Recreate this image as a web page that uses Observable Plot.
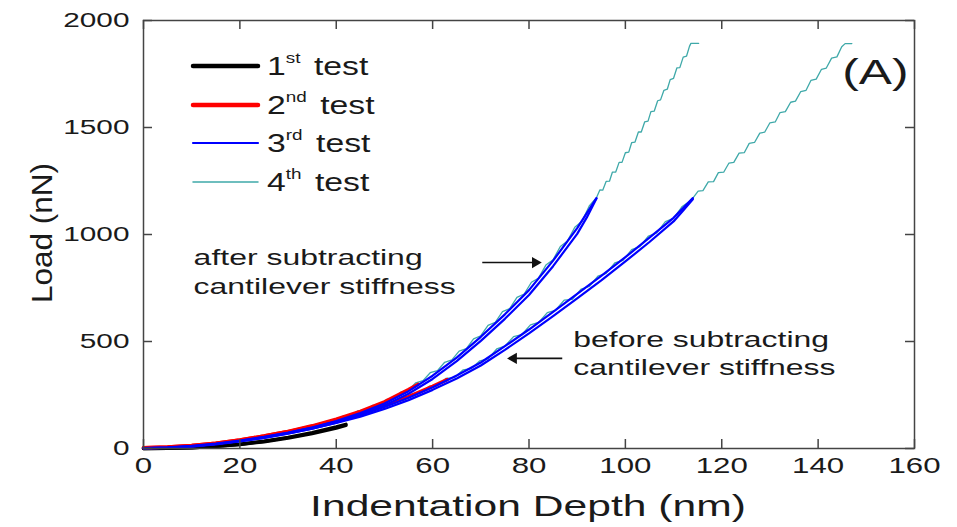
<!DOCTYPE html>
<html><head><meta charset="utf-8">
<script src="https://cdn.jsdelivr.net/npm/d3@7"></script>
<script src="https://cdn.jsdelivr.net/npm/@observablehq/plot@0.6"></script>
<style>
body{margin:0;background:#fff;}
#chart{position:relative;width:957px;height:527px;}
</style></head><body><div id="chart"></div>
<script>
// ---- tick labels ----
const xTicks = [0, 20, 40, 60, 80, 100, 120, 140, 160];
const yTicks = [0, 500, 1000, 1500, 2000];
const xTitle = "Indentation Depth (nm)";
const yTitle = "Load (nN)";
const panelLabel = "(A)";

// ---- series: [indentation depth (nm), load (nN)] ----
const test1After = [[0,0],[5,1],[10,4],[15,10],[20,20],[25,34],[30,52],[35,74],[40,101],[42,113]];
const test1Before = [[0,0],[5,1],[10,4],[15,10],[20,19],[25,32],[30,49],[35,70],[40,96],[42,108]];

const test2After = [[0,4],[5,7],[10,14],[15,25],[20,40],[25,58],[30,80],[35,106],[40,137],[45,173],[50,218],[55,275],[57,300]];
const test2Before = [[0,4],[5,7],[10,14],[15,25],[20,40],[25,58],[30,79],[35,103],[40,131],[45,162],[50,199],[55,242],[60,290],[63,322]];

const test3AfterA = [[0,2],[5,4],[10,10],[15,21],[20,36],[25,53],[30,73],[35,98],[40,128],[45,166],[50,210],[55,268],[60,340],[65,425],[70,522],[75,627],[80,740],[85,878],[90,1030],[94,1170]];
const test3AfterB = [[0,1],[5,3],[10,9],[15,19],[20,33],[25,49],[30,69],[35,93],[40,121],[45,158],[50,201],[55,256],[60,325],[65,408],[70,503],[75,606],[80,717],[85,852],[90,1003],[92,1080],[94,1168]];
const test3BeforeA = [[0,2],[5,5],[10,12],[15,23],[20,37],[25,54],[30,74],[35,98],[40,126],[45,157],[50,194],[55,237],[60,286],[65,341],[70,402],[75,478],[80,556],[85,638],[90,722],[95,807],[100,894],[105,985],[110,1078],[114,1170]];
const test3BeforeB = [[0,1],[5,4],[10,10],[15,21],[20,34],[25,50],[30,70],[35,93],[40,119],[45,149],[50,185],[55,226],[60,274],[65,327],[70,388],[75,461],[80,538],[85,619],[90,702],[95,786],[100,874],[105,965],[110,1061],[112,1112],[114,1165]];

const test4After = [[0,0],[10,10],[20,36],[30,74],[36,102],[40,128],
 [41.5,153],[43,152],[44.5,176],[46,176],[47.5,201],[49,202],[50.5,230],[52,234],[53.5,265],[55,272],
 [56.5,307],[58,317],[59.5,354],[61,364],[62.5,403],[64,414],[65.5,455],[67,467],[68.5,512],[70,527],
 [71.5,575],[73,590],[74.5,640],[76,654],[77.5,706],[79,722],[80.5,777],[82,797],[83.5,857],[85,882],
 [86.5,944],[88,970],[89.5,1034],[91,1062],[92.5,1133],[94,1172],
 [94.7,1208],[95.3,1207],[96,1248],[96.7,1249],[97.3,1291],[98,1292],[98.7,1337],[99.3,1337],[100,1382],
 [100.7,1385],[101.3,1429],[102,1432],[102.7,1479],[103.3,1479],[104,1526],[104.7,1530],[105.3,1574],
 [106,1577],[106.7,1625],[107.3,1629],[108,1674],[108.7,1679],[109.3,1724],[110,1730],[110.7,1779],
 [111.3,1780],[112,1829],[112.7,1834],[113.3,1879],[113.6,1893],[115.2,1893]];

const test4Before = [[0,0],[10,11],[20,36],[30,73],[40,125],
 [41.8,151],[43.5,146],[45.3,171],[47,169],[48.8,197],[50.5,196],[52.3,225],[54,226],[55.8,256],[57.5,259],
 [59.3,291],[61,294],[62.8,328],[64.5,331],[66.3,367],[68,373],[69.8,410],[71.5,419],[73.3,465],[75,478],
 [76.8,523],[78.5,532],[80.3,578],[82,589],[83.8,635],[85.5,646],[87.3,693],[89,697],[90.8,745],[92.5,757],
 [94.3,805],[96,818],[97.8,867],[99.5,879],[101.3,929],[103,943],[104.8,993],[106.5,1008],[108.3,1060],
 [110,1075],[111.8,1131],[113.5,1158],[114,1170],
 [115.1,1203],[116.1,1205],[117.2,1246],[118.3,1247],[119.3,1289],[120.4,1291],[121.5,1334],[122.5,1337],
 [123.6,1380],[124.7,1383],[125.7,1426],[126.8,1430],[127.9,1474],[128.9,1478],[130,1522],[131.1,1526],
 [132.1,1570],[133.2,1574],[134.3,1618],[135.3,1623],[136.4,1668],[137.5,1674],[138.5,1720],[139.6,1726],
 [140.7,1772],[141.7,1778],[142.8,1824],[143.9,1830],[144.9,1877],[145.6,1892],[147,1892]];

// ---- legend & annotations ----
const legendNums = ["1", "2", "3", "4"];
const legendSups = ["st", "nd", "rd", "th"];
const legendWord = "test";
const notes = [
  {text: "after subtracting", x: 10.4, y: 893},
  {text: "cantilever stiffness", x: 10.4, y: 757},
  {text: "before subtracting", x: 89.2, y: 509},
  {text: "cantilever stiffness", x: 89.2, y: 378}
];
const arrows = [
  {x1: 70.3, x2: 81.3, y: 869},
  {x1: 86.9, x2: 76.8, y: 421}
];
const panelPos = [{text: panelLabel, x: 145, y: 1757}];

const FONT = "'Liberation Sans', Arial, Helvetica, sans-serif";
const C = {t1: "#000000", t2: "#ff0000", t3: "#0000ff", t4: "#3fa9a9", axis: "#444444", txt: "#1a1a1a"};
const px = d => d[0], py = d => d[1];

const plot = Plot.plot({
  width: 957, height: 527,
  marginLeft: 143, marginRight: 43, marginTop: 20, marginBottom: 79,
  style: {fontFamily: FONT, color: C.txt, background: "#fff", overflow: "visible"},
  x: {domain: [0, 160]},
  y: {domain: [0, 2000]},
  marks: [
    Plot.line(test4After, {x: px, y: py, stroke: C.t4, strokeWidth: 1.3}),
    Plot.line(test4Before, {x: px, y: py, stroke: C.t4, strokeWidth: 1.3}),
    Plot.line(test1After, {x: px, y: py, stroke: C.t1, strokeWidth: 3.5}),
    Plot.line(test1Before, {x: px, y: py, stroke: C.t1, strokeWidth: 3.5}),
    Plot.line(test2After, {x: px, y: py, stroke: C.t2, strokeWidth: 3.5}),
    Plot.line(test2Before, {x: px, y: py, stroke: C.t2, strokeWidth: 3.5}),
    Plot.line(test3AfterA, {x: px, y: py, stroke: C.t3, strokeWidth: 2.2}),
    Plot.line(test3AfterB, {x: px, y: py, stroke: C.t3, strokeWidth: 2.2}),
    Plot.line(test3BeforeA, {x: px, y: py, stroke: C.t3, strokeWidth: 2.2}),
    Plot.line(test3BeforeB, {x: px, y: py, stroke: C.t3, strokeWidth: 2.2}),
    Plot.frame({stroke: C.axis, strokeWidth: 1.5}),
    Plot.ruleX(xTicks, {x: d => d, insetTop: 419, stroke: C.axis, strokeWidth: 1.5}),
    Plot.ruleX(xTicks, {x: d => d, insetBottom: 419, stroke: C.axis, strokeWidth: 1.5}),
    Plot.ruleY(yTicks, {y: d => d, insetRight: 762, stroke: C.axis, strokeWidth: 1.5}),
    Plot.ruleY(yTicks, {y: d => d, insetLeft: 762, stroke: C.axis, strokeWidth: 1.5}),
    Plot.axisX({ticks: xTicks, tickSize: 0, tickPadding: 9, fontSize: 22, label: null, tickFormat: d => String(d)}),
    Plot.axisY({ticks: yTicks, tickSize: 0, tickPadding: 14, fontSize: 21, label: null, tickFormat: d => String(d)}),
    Plot.text(notes, {x: "x", y: "y", text: "text", textAnchor: "start", lineAnchor: "middle", fontSize: 22.5, fill: C.txt}),
    Plot.link(arrows, {x1: "x1", y1: "y", x2: "x2", y2: "y", stroke: "#111", strokeWidth: 1.6}),
    Plot.dot(arrows, {x: "x2", y: "y", symbol: "triangle", r: 4.2, fill: "#111", stroke: "none",
      rotate: d => (d.x2 > d.x1 ? 90 : -90), dx: 0}),
    Plot.text(panelPos, {x: "x", y: "y", text: "text", textAnchor: "start", lineAnchor: "middle", fontSize: 35, fill: C.txt})
  ]
});

// wide glyphs as in the original figure
d3.select(plot).selectAll("text").each(function () {
  const t = this.getAttribute("transform");
  if (t && !t.includes("rotate")) this.setAttribute("transform", t + " scale(1.42,1)");
});

const svg = d3.select(plot);
// axis titles
svg.append("text").attr("transform", "translate(528,516) scale(1.47,1)")
  .attr("text-anchor", "middle").attr("font-size", 29).attr("fill", C.txt)
  .attr("font-family", FONT).text(xTitle);
svg.append("text").attr("transform", "translate(52,233) rotate(-90) scale(1.05,1)")
  .attr("text-anchor", "middle").attr("font-size", 30).attr("fill", C.txt)
  .attr("font-family", FONT).text(yTitle);

// legend
const legColors = [C.t1, C.t2, C.t3, C.t4];
const legWidths = [4.5, 4.5, 2.2, 1.5];
const legY = [66, 105, 143, 182];
const lg = svg.append("g").attr("font-family", FONT).attr("fill", C.txt).attr("text-anchor", "start");
legendNums.forEach((n, i) => {
  lg.append("line").attr("x1", 193).attr("x2", 258).attr("y1", legY[i]).attr("y2", legY[i])
    .attr("stroke", legColors[i]).attr("stroke-width", legWidths[i]).attr("stroke-linecap", "round");
  const t = lg.append("text").attr("text-anchor", "start")
    .attr("transform", `translate(267,${legY[i] + 9}) scale(1.35,1)`).attr("font-size", 25);
  t.append("tspan").text(n);
  t.append("tspan").attr("font-size", 14).attr("dy", -12).text(legendSups[i]);
  t.append("tspan").attr("dy", 12).attr("dx", 3).text(" " + legendWord);
});

document.getElementById("chart").appendChild(plot);
</script></body></html>
